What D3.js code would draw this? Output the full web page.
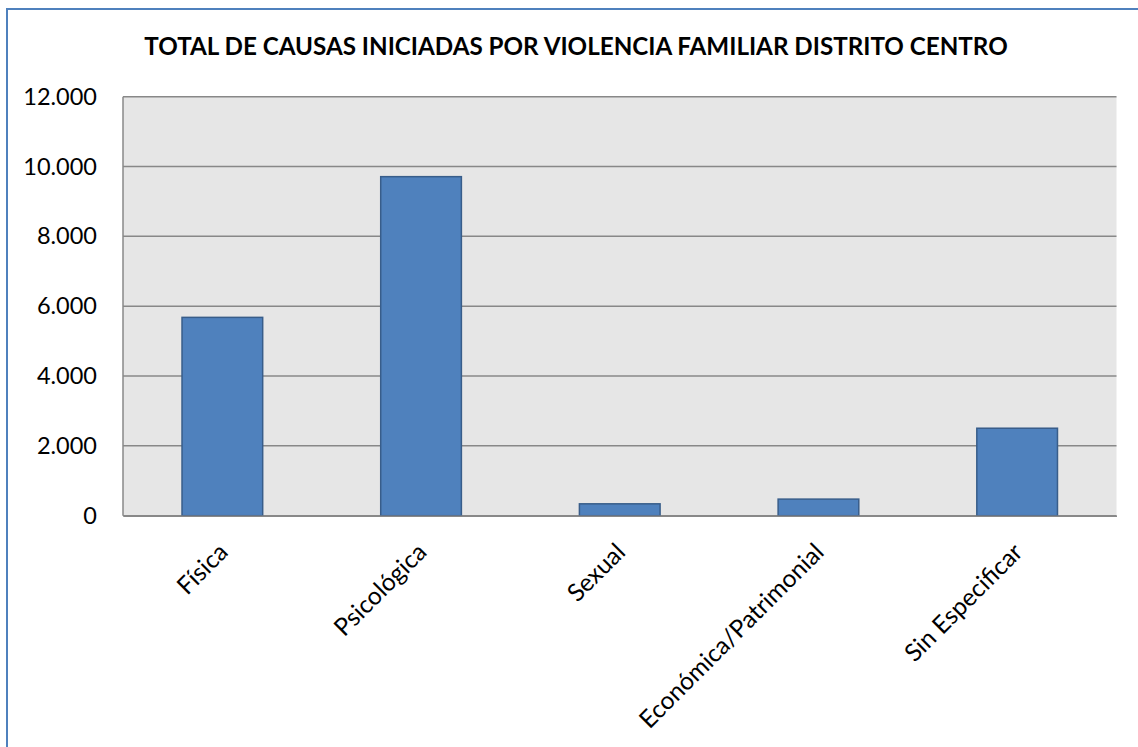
<!DOCTYPE html>
<html>
<head>
<meta charset="utf-8">
<script src="https://cdn.jsdelivr.net/npm/d3@7"></script>
<style>
  html, body { margin: 0; padding: 0; background: #ffffff; }
  svg { display: block; }
</style>
</head>
<body>
<script>
const categories = ["Física", "Psicológica", "Sexual", "Económica/Patrimonial", "Sin Especificar"];
const values = [5680, 9710, 340, 475, 2505];
const yTicks = [0, 2000, 4000, 6000, 8000, 10000, 12000];
const titleText = "TOTAL DE CAUSAS INICIADAS POR VIOLENCIA FAMILIAR DISTRITO CENTRO";

const W = 1138, H = 747;
const plot = { left: 123, right: 1116.5, top: 96.7, bottom: 515.7 };

const svg = d3.select("body").append("svg").attr("width", W).attr("height", H);

// chart frame (extends past the viewport on right/bottom)
svg.append("rect")
  .attr("x", 7).attr("y", 9)
  .attr("width", W + 20).attr("height", H + 20)
  .attr("fill", "#ffffff")
  .attr("stroke", "#4f81bd").attr("stroke-width", 2);

const x = d3.scaleBand().domain(categories).range([plot.left, plot.right]).paddingInner(0.594).paddingOuter(0.297);
const y = d3.scaleLinear().domain([0, 12000]).range([plot.bottom, plot.top]);

// plot background
svg.append("rect")
  .attr("x", plot.left).attr("y", plot.top)
  .attr("width", plot.right - plot.left).attr("height", plot.bottom - plot.top)
  .attr("fill", "#e6e6e6");

// gridlines
svg.append("g").selectAll("line").data(yTicks).join("line")
  .attr("x1", plot.left).attr("x2", plot.right)
  .attr("y1", d => y(d)).attr("y2", d => y(d))
  .attr("stroke", "#888888").attr("stroke-width", 1.5);

// left axis line
svg.append("line")
  .attr("x1", plot.left).attr("x2", plot.left)
  .attr("y1", plot.top).attr("y2", plot.bottom)
  .attr("stroke", "#888888").attr("stroke-width", 1.5);

// bars
svg.append("g").selectAll("rect").data(values).join("rect")
  .attr("x", (d, i) => x(categories[i]))
  .attr("y", d => y(d))
  .attr("width", x.bandwidth())
  .attr("height", d => y(0) - y(d))
  .attr("fill", "#4f81bd")
  .attr("stroke", "#385d8a").attr("stroke-width", 1.5);

// y axis via d3 axis
const fmt = d3.formatLocale({ decimal: ",", thousands: ".", grouping: [3], currency: ["$", ""] }).format(",d");
const yAxis = svg.append("g")
  .attr("transform", `translate(${plot.left},0)`)
  .call(d3.axisLeft(y).tickValues(yTicks).tickFormat(fmt).tickSize(0).tickPadding(26));
yAxis.select(".domain").remove();
yAxis.selectAll("text")
  .attr("font-family", "Lato, 'Open Sans', sans-serif")
  .attr("font-size", 23.5)
  .attr("fill", "#000000");

// x axis labels
const xAxis = svg.append("g")
  .attr("transform", `translate(0,${plot.bottom})`)
  .call(d3.axisBottom(x).tickSize(0).tickPadding(0));
xAxis.select(".domain").attr("stroke", "#888888").attr("stroke-width", 1.5);
xAxis.selectAll(".tick text")
  .attr("font-family", "Lato, 'Open Sans', sans-serif")
  .attr("font-size", 24.5)
  .attr("fill", "#000000")
  .attr("text-anchor", "end")
  .attr("dy", 0)
  .attr("y", 0)
  .attr("transform", "translate(7,38) rotate(-45)");

// title
svg.append("text")
  .attr("x", 576).attr("y", 54.5)
  .attr("text-anchor", "middle")
  .attr("font-family", "Lato, 'Open Sans', sans-serif")
  .attr("font-weight", "bold")
  .attr("font-size", 24.2)
  .attr("fill", "#000000")
  .text(titleText);
</script>
</body>
</html>
